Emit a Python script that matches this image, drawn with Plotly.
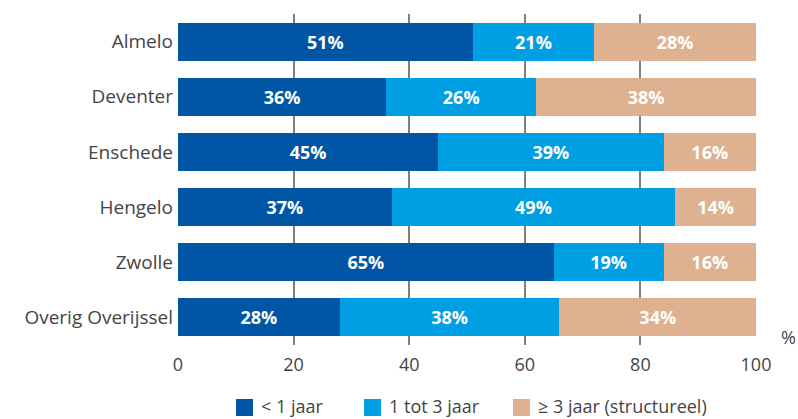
import plotly.graph_objects as go

categories = ["Almelo", "Deventer", "Enschede", "Hengelo", "Zwolle", "Overig Overijssel"]
lt1 = [51, 36, 45, 37, 65, 28]
tot3 = [21, 26, 39, 49, 19, 38]
ge3 = [28, 38, 16, 14, 16, 34]
series_names = ["< 1 jaar", "1 tot 3 jaar", "≥ 3 jaar (structureel)"]
colors = ["#0055A4", "#009FE3", "#DEB190"]
x_ticks = [0, 20, 40, 60, 80, 100]

FONT = "'Open Sans', Lato, sans-serif"
GREY = "#444444"

W, H = 798, 419
ML, MR, MT, MB = 178, 42, 14, 74
PW, PH = W - ML - MR, H - MT - MB


def px_x(p):
    return (p - ML) / PW


def px_y(p):
    return (H - MB - p) / PH


fig = go.Figure()
for name, vals, col in zip(series_names, [lt1, tot3, ge3], colors):
    fig.add_trace(go.Bar(
        y=categories, x=vals, name=name, orientation="h",
        marker=dict(color=col, line=dict(width=0)),
        text=[f"{v}%" for v in vals], textposition="inside",
        insidetextanchor="middle",
        textfont=dict(color="white", size=18, family="'Open Sans', sans-serif", weight="bold"),
        hoverinfo="skip", showlegend=False,
    ))

fig.update_layout(
    barmode="stack",
    bargap=0.31,
    width=W, height=H,
    margin=dict(l=ML, r=MR, t=MT, b=MB, autoexpand=False),
    paper_bgcolor="white", plot_bgcolor="white",
    font=dict(family=FONT, color=GREY, size=18),
    uniformtext=dict(minsize=10, mode="show"),
    xaxis=dict(range=[0, 100], tickvals=x_ticks, showgrid=True,
               gridcolor="#7f7f7f", gridwidth=1.5, zeroline=False,
               showline=False, ticks="", tickfont=dict(size=18, color=GREY),
               ticklabelstandoff=7, fixedrange=True),
    yaxis=dict(categoryorder="array", categoryarray=categories[::-1],
               ticks="", showgrid=False, tickfont=dict(size=19, color=GREY),
               ticklabelstandoff=4),
    showlegend=False,
)

# axis unit label
fig.add_annotation(text="%", xref="paper", yref="paper", x=px_x(779), y=px_y(337),
                   xanchor="left", yanchor="middle", showarrow=False,
                   font=dict(size=18, color=GREY))

# legend: coloured squares with labels beneath the chart
legend_x = [236, 364, 513]
sq = 17
for name, col, lx in zip(series_names, colors, legend_x):
    fig.add_shape(type="rect", xref="paper", yref="paper",
                  x0=px_x(lx), x1=px_x(lx + sq), y0=px_y(399), y1=px_y(399 + sq),
                  fillcolor=col, line=dict(width=0))
    fig.add_annotation(text=name, xref="paper", yref="paper",
                       x=px_x(lx + sq + 6), y=px_y(406),
                       xanchor="left", yanchor="middle", showarrow=False,
                       font=dict(size=18, color=GREY))

fig.write_html("out.html")
